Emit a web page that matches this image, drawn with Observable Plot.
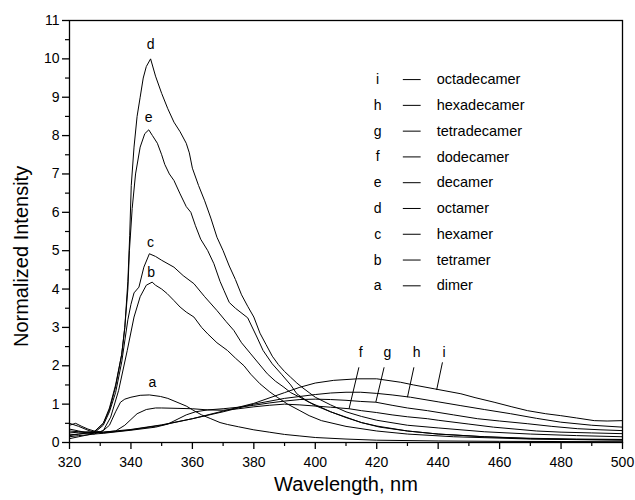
<!DOCTYPE html>
<html>
<head>
<meta charset="utf-8">
<script src="https://cdn.jsdelivr.net/npm/d3@7"></script>
<script src="https://cdn.jsdelivr.net/npm/@observablehq/plot@0.6"></script>
<style>
  html, body { margin: 0; padding: 0; background: #fff; }
  #chart { width: 635px; height: 500px; }
</style>
</head>
<body>
<div id="chart"></div>
<script>
// ---- data ----
const dimerNm = [320,322,324,326,328,330,331,333,335,336.6,338,340,343,346,349.6,352,355,358,360.5,363,366,369,371.4,375,380,385,390,395,400,410,420,440,460,480,500];
const dimerI  = [0.45,0.5,0.42,0.35,0.3,0.28,0.31,0.45,0.8,1.05,1.13,1.18,1.23,1.24,1.2,1.15,1.05,0.95,0.83,0.72,0.62,0.52,0.47,0.41,0.33,0.27,0.21,0.17,0.13,0.09,0.06,0.04,0.03,0.025,0.02];

const tetramerNm = [320,323,326,328,331,333.4,336,338.8,341,343,345,346.9,348,350,351.8,354,356,358,360.5,363,365,368,371.4,374,376.8,379,382,385,387.6,391,395,398,402,410,420,430,445,470,500];
const tetramerI  = [0.15,0.18,0.2,0.22,0.31,0.66,1.36,2.4,3.27,3.8,4.1,4.18,4.1,4.0,3.88,3.7,3.53,3.4,3.27,3.0,2.83,2.6,2.4,2.2,2.0,1.78,1.53,1.33,1.18,1.0,0.83,0.7,0.57,0.42,0.3,0.22,0.15,0.09,0.06];

const hexamerNm = [320,323,326,328,331,333,335,337,339,340,341,342.6,344.2,346,348,350,354,357,360.5,364,368,371,373.5,376,379,382,384.4,387,389.8,392,395,398,401.8,405,410,415,420,430,440,455,470,485,500];
const hexamerI  = [0.1,0.15,0.2,0.25,0.45,0.8,1.3,2.1,3.2,3.6,3.9,4.05,4.57,4.92,4.85,4.75,4.57,4.35,4.14,3.8,3.44,3.15,2.92,2.6,2.31,2.02,1.79,1.6,1.44,1.3,1.18,1.05,0.92,0.8,0.65,0.52,0.43,0.3,0.22,0.15,0.1,0.08,0.07];

const octamerNm = [320,323,326,328,331,333,335,337,338,339,339.6,340.1,341,342,343,344,345,346.4,348,350,352,354,356,358,359,360,362,364,366,368,370,372,374,376,378,380,382,384,386,388,390,392,394,396,398,400,405,410,415,420,430,440,455,470,485,500];
const octamerI  = [0.2,0.22,0.25,0.28,0.5,0.9,1.5,2.3,3.0,4.2,5.4,6.7,7.7,8.5,9.0,9.5,9.8,10.0,9.55,9.1,8.7,8.35,8.1,7.8,7.55,7.15,6.7,6.3,5.85,5.35,5.0,4.6,4.25,3.85,3.55,3.27,2.85,2.55,2.25,2.03,1.85,1.7,1.55,1.42,1.3,1.18,0.98,0.8,0.68,0.58,0.45,0.38,0.28,0.22,0.18,0.15];

const decamerNm = [320,323,326,328,331,333,335,337,338,339,339.5,340.4,341.5,343,344.5,345.8,347,348.6,350,351,352.5,354,356,358,359.5,361,362.7,365,367,369,370.3,372,374,378,381,383,386,389,392,394,397,400,405,410,415,421,430,440,455,470,485,500];
const decamerI  = [0.25,0.27,0.28,0.27,0.5,0.85,1.45,2.3,3.0,4.0,5.0,6.1,7.0,7.7,8.05,8.15,8.0,7.8,7.5,7.25,7.0,6.83,6.48,6.15,6.0,5.65,5.3,5.0,4.66,4.2,3.96,3.65,3.5,3.25,2.75,2.4,2.05,1.78,1.5,1.27,1.1,0.96,0.8,0.66,0.52,0.4,0.3,0.22,0.15,0.11,0.09,0.08];

const dodecamerNm = [320,323,326,328,331,335,338,340,342,345,348,350,355,360,365,370,375,380,385,390,395,400,405,411,415,420,425,430,436.5,440,450,458,465,472,480,490,500];
const dodecamerI  = [0.3,0.28,0.25,0.25,0.27,0.3,0.45,0.6,0.75,0.86,0.9,0.9,0.89,0.88,0.85,0.84,0.88,0.93,0.97,1.0,0.98,0.95,0.92,0.88,0.83,0.78,0.72,0.67,0.62,0.58,0.48,0.4,0.35,0.3,0.27,0.25,0.23];

const tetradecamerNm = [320,323,326,328,331,340,348,352,355,358,361,365,370,375,380,385,390,395,400,405,410,414.8,419.7,425,430,436.5,445,452.8,460,469,477,485.4,493,500];
const tetradecamerI  = [0.35,0.3,0.25,0.22,0.24,0.32,0.4,0.48,0.6,0.72,0.8,0.85,0.88,0.92,0.97,1.03,1.08,1.12,1.13,1.12,1.1,1.07,1.05,0.97,0.9,0.83,0.72,0.62,0.56,0.49,0.42,0.36,0.33,0.31];

const hexadecamerNm = [320,323,326,328,331,340,350,360,370,380,390,400,405,410,414.8,420,425,431,440,447.4,455,463.6,472,479.9,490,500];
const hexadecamerI  = [0.5,0.42,0.32,0.27,0.25,0.33,0.45,0.62,0.8,1.0,1.15,1.25,1.29,1.31,1.31,1.28,1.24,1.18,1.06,0.96,0.86,0.75,0.63,0.53,0.45,0.4];

const octadecamerNm = [320,323,326,328,331,340,350,360,370,380,390,395,400,406,413.7,420,427.8,432,438.7,447.4,452,458.2,464,469.1,475,479.9,485,490.8,495,500];
const octadecamerI  = [0.18,0.22,0.25,0.26,0.27,0.34,0.46,0.62,0.82,1.02,1.3,1.44,1.55,1.62,1.66,1.66,1.57,1.5,1.4,1.27,1.17,1.05,0.93,0.83,0.75,0.7,0.64,0.57,0.56,0.57];

const seriesKeys  = ["a","b","c","d","e","f","g","h","i"];
const seriesNames = ["dimer","tetramer","hexamer","octamer","decamer","dodecamer","tetradecamer","hexadecamer","octadecamer"];
const seriesNm = [dimerNm, tetramerNm, hexamerNm, octamerNm, decamerNm, dodecamerNm, tetradecamerNm, hexadecamerNm, octadecamerNm];
const seriesI  = [dimerI, tetramerI, hexamerI, octamerI, decamerI, dodecamerI, tetradecamerI, hexadecamerI, octadecamerI];

// curve-label anchors (data coordinates: nm, intensity)
const peakLabelKeys = ["d","e","c","b","a"];
const peakLabelNm   = [346.4, 345.8, 346.4, 346.6, 347];
const peakLabelI    = [10.37, 8.47, 5.22, 4.44, 1.57];

const tailLabelKeys = ["f","g","h","i"];
const tailLabelNm   = [414.8, 423.5, 433.0, 441.9];
const tailLabelI    = [2.34, 2.34, 2.34, 2.34];
const pointerFromNm = [414.2, 422.4, 432.1, 441.4];
const pointerFromI  = [1.96, 1.96, 1.96, 2.09];
const pointerToNm   = [411.0, 419.7, 430.0, 439.5];
const pointerToI    = [0.88, 1.05, 1.18, 1.37];

const xTicks = [320,340,360,380,400,420,440,460,480,500];
const xMinor = [330,350,370,390,410,430,450,470,490];
const yTicks = [0,1,2,3,4,5,6,7,8,9,10,11];
const yMinor = [0.5,1.5,2.5,3.5,4.5,5.5,6.5,7.5,8.5,9.5,10.5];

const xTitle = "Wavelength, nm";
const yTitle = "Normalized Intensity";

// ---- build tables ----
const rows = seriesKeys.flatMap((k, s) => seriesNm[s].map((x, j) => ({key: k, x, y: seriesI[s][j]})));
const peakLabels = peakLabelKeys.map((t, j) => ({t, x: peakLabelNm[j], y: peakLabelI[j]}));
const tailLabels = tailLabelKeys.map((t, j) => ({t, x: tailLabelNm[j], y: tailLabelI[j]}));
const pointers = tailLabelKeys.map((t, j) => ({x1: pointerFromNm[j], y1: pointerFromI[j], x2: pointerToNm[j], y2: pointerToI[j]}));

// legend (listed from i down to a), placed in data space
const legendOrder = seriesKeys.map((k, s) => ({key: k, name: seriesNames[s]})).reverse();
const legendTop = 9.46, legendStep = 0.672;
const legend = legendOrder.map((d, j) => ({...d, y: legendTop - j * legendStep}));

const font = "'Liberation Sans', Arial, Helvetica, sans-serif";

const chart = Plot.plot({
  width: 635,
  height: 500,
  marginLeft: 69,
  marginRight: 13,
  marginTop: 20,
  marginBottom: 58,
  style: {fontFamily: font, fontSize: "14px", color: "#000", background: "#fff", overflow: "visible"},
  x: {domain: [320, 500]},
  y: {domain: [0, 11]},
  marks: [
    Plot.line(rows, {x: "x", y: "y", z: "key", stroke: "#000", strokeWidth: 1, curve: "linear"}),
    Plot.frame({stroke: "#000", strokeWidth: 1.3}),
    Plot.axisX({ticks: xTicks, tickSize: 7, tickPadding: 8, label: null, fontSize: 14, strokeWidth: 1.3}),
    Plot.axisX({ticks: xMinor, tickSize: 4, tickFormat: () => "", label: null, strokeWidth: 1.2}),
    Plot.axisY({ticks: yTicks, tickSize: 7, tickPadding: 3, label: null, fontSize: 14, strokeWidth: 1.3}),
    Plot.axisY({ticks: yMinor, tickSize: 4, tickFormat: () => "", label: null, strokeWidth: 1.2}),
    // axis titles, anchored in data space just outside the frame
    Plot.text([xTitle], {x: () => 410, y: () => -1.1, text: d => d, fontSize: 20, fill: "#000", clip: false}),
    Plot.text([yTitle], {x: () => 304.4, y: () => 4.85, text: d => d, rotate: -90, fontSize: 20, fill: "#000", clip: false}),
    Plot.text(peakLabels, {x: "x", y: "y", text: "t", fontSize: 14, fill: "#000"}),
    Plot.text(tailLabels, {x: "x", y: "y", text: "t", fontSize: 14, fill: "#000"}),
    Plot.link(pointers, {x1: "x1", y1: "y1", x2: "x2", y2: "y2", stroke: "#000", strokeWidth: 1}),
    Plot.text(legend, {x: () => 420.3, y: "y", text: "key", fontSize: 14, fill: "#000"}),
    Plot.link(legend, {x1: () => 428.5, x2: () => 434.3, y1: "y", y2: "y", stroke: "#000", strokeWidth: 1}),
    Plot.text(legend, {x: () => 439.5, y: "y", text: "name", textAnchor: "start", fontSize: 14.5, fill: "#000"})
  ]
});

document.getElementById("chart").appendChild(chart);
</script>
</body>
</html>
